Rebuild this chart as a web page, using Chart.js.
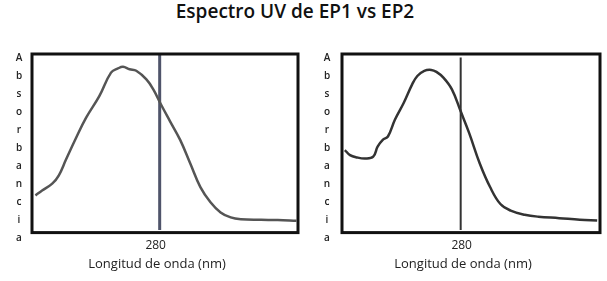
<!DOCTYPE html>
<html>
<head>
<meta charset="utf-8">
<script src="https://cdn.jsdelivr.net/npm/chart.js@4"></script>
<style>
  body { margin: 0; background: #fff; width: 607px; height: 281px; position: relative; overflow: hidden; }
  #titulo { position: absolute; left: 0; top: -2px; width: 590px; text-align: center;
            font: 600 19px "Open Sans", sans-serif; color: #111; }
  .caja { position: absolute; top: 0; height: 281px; }
  #caja1 { left: 0; width: 305px; }
  #caja2 { left: 305px; width: 302px; }
</style>
</head>
<body>
<div id="titulo">Espectro UV de EP1 vs EP2</div>
<div class="caja" id="caja1"><canvas id="espectro_ep1"></canvas></div>
<div class="caja" id="caja2"><canvas id="espectro_ep2"></canvas></div>
<script>
//Datos EP1 (longitud de onda en nm, absorbancia relativa)
const nm_ep1 = [233.3, 235.8, 239.6, 242.1, 244.7, 248.5, 252.3, 257.3, 261.7, 264.3, 266.2, 268.7, 271.2, 275.0, 277.6, 280.5, 283.9, 287.7, 291.5, 295.3, 299.1, 302.9, 306.7, 310.5, 318.1, 324.4, 331.4];
const abs_ep1 = [0.208, 0.236, 0.274, 0.321, 0.406, 0.528, 0.642, 0.764, 0.896, 0.919, 0.928, 0.915, 0.906, 0.858, 0.802, 0.717, 0.623, 0.519, 0.387, 0.255, 0.170, 0.113, 0.085, 0.075, 0.072, 0.070, 0.066];

//Datos EP2
const nm_ep2 = [235.1, 237.1, 239.8, 243.1, 246.1, 247.8, 249.8, 251.8, 254.5, 257.9, 261.2, 263.2, 265.9, 268.6, 270.6, 273.3, 276.6, 280.0, 283.3, 287.4, 291.4, 295.4, 299.4, 304.8, 310.1, 318.2, 326.2, 332.9];
const abs_ep2 = [0.462, 0.434, 0.421, 0.415, 0.425, 0.481, 0.519, 0.538, 0.632, 0.726, 0.830, 0.877, 0.906, 0.911, 0.900, 0.868, 0.802, 0.679, 0.557, 0.387, 0.255, 0.160, 0.123, 0.100, 0.089, 0.081, 0.072, 0.068];

//Marca en 280 nm
const tick_nm = [280];
const linea_280 = [280, 280];
const linea_280_ep1 = [0.015, 1.0];
const linea_280_ep2 = [0.015, 0.98];

//Rango del eje x
const rango_ep1 = [232, 332];
const rango_ep2 = [234, 334];

const letras = ["A", "b", "s", "o", "r", "b", "a", "n", "c", "i", "a"];
const titulo_x = "Longitud de onda (nm)";

//Marco negro, letras de "Absorbancia" y titulo del eje x
const marco = {
  id: "marco",
  afterDraw(chart, args, opts) {
    const { ctx, chartArea } = chart;
    ctx.save();
    ctx.strokeStyle = "#111";
    ctx.lineWidth = 3;
    ctx.strokeRect(chartArea.left, chartArea.top, chartArea.right - chartArea.left, chartArea.bottom - chartArea.top);
    ctx.fillStyle = "#222";
    ctx.font = "600 10px 'Open Sans', sans-serif";
    ctx.textAlign = "center";
    ctx.textBaseline = "middle";
    letras.forEach((l, i) => ctx.fillText(l, opts.x, 58 + i * 18));
    ctx.font = "13px 'Open Sans', sans-serif";
    ctx.fillText(titulo_x, (chartArea.left + chartArea.right) / 2 - 8, 264);
    ctx.restore();
  },
};

function datos(xs, ys) {
  return xs.map((x, i) => ({ x: x, y: ys[i] }));
}

function crear(id, xs, ys, lineaY, rango, colorCurva, colorLinea, anchoLinea, pad, letraX, desfase) {
  new Chart(document.getElementById(id), {
    type: "line",
    data: {
      datasets: [
        {
          data: datos(xs, ys),
          borderColor: colorCurva,
          borderWidth: 2.5,
          pointRadius: 0,
          tension: 0.4,
        },
        {
          data: datos(linea_280, lineaY),
          borderColor: colorLinea,
          borderWidth: anchoLinea,
          pointRadius: 0,
        },
      ],
    },
    options: {
      responsive: true,
      maintainAspectRatio: false,
      animation: false,
      layout: { padding: pad },
      plugins: { legend: { display: false }, tooltip: { enabled: false }, marco: { x: letraX } },
      scales: {
        x: {
          type: "linear",
          min: rango[0],
          max: rango[1],
          afterBuildTicks: (s) => { s.ticks = tick_nm.map((v) => ({ value: v })); },
          grid: { display: false },
          border: { display: false },
          ticks: { padding: -2, labelOffset: desfase, color: "#222", font: { family: "Open Sans", size: 12 } },
        },
        y: { display: false, min: 0, max: 1 },
      },
    },
    plugins: [marco],
  });
}

crear("espectro_ep1", nm_ep1, abs_ep1, linea_280_ep1, rango_ep1, "#555", "#4f546a", 3, { left: 32, right: 7, top: 54, bottom: 30 }, 19, -4);
crear("espectro_ep2", nm_ep2, abs_ep2, linea_280_ep2, rango_ep2, "#333", "#333", 2, { left: 37, right: 7, top: 54, bottom: 30 }, 22, 1);
</script>
</body>
</html>
